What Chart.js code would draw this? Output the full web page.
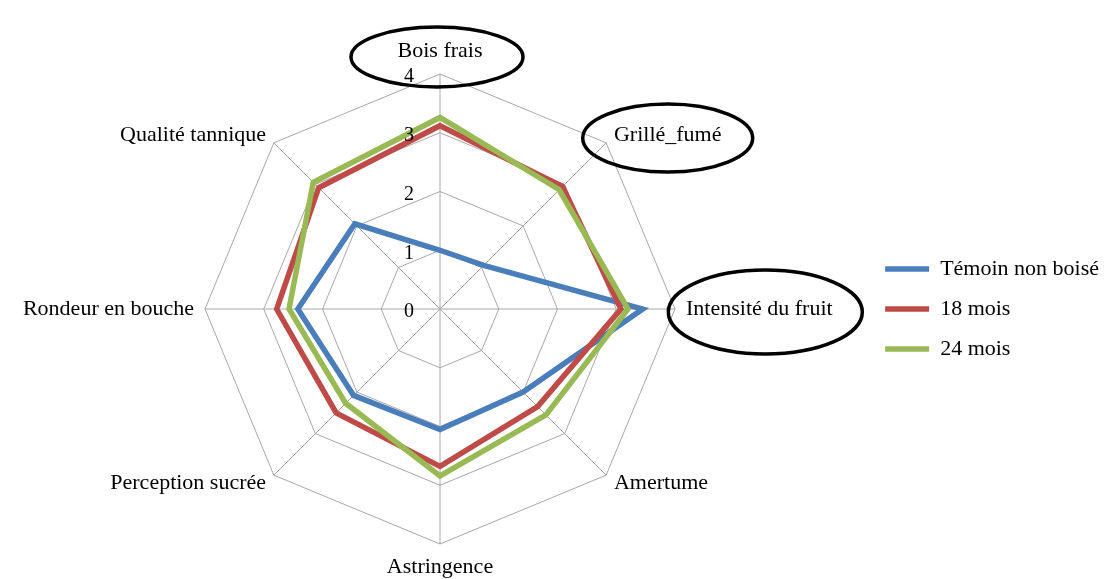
<!DOCTYPE html>
<html>
<head>
<meta charset="utf-8">
<script src="https://cdn.jsdelivr.net/npm/chart.js@4.4.1/dist/chart.umd.min.js"></script>
<style>
  html, body { margin: 0; padding: 0; background: #fff; }
  #wrap { width: 1111px; height: 579px; position: relative; }
</style>
</head>
<body>
<div id="wrap"><canvas id="chart"></canvas></div>
<script>
// Profil sensoriel : témoin non boisé vs élevage 18 / 24 mois

const labels = ['Bois frais', 'Grillé_fumé', 'Intensité du fruit', 'Amertume', 'Astringence', 'Perception sucrée', 'Rondeur en bouche', 'Qualité tannique'];
const seriesNames = ['Témoin non boisé', '18 mois', '24 mois'];
const temoin = [1.0, 1.05, 3.45, 2.0, 2.05, 2.08, 2.42, 2.05];
const mois18 = [3.12, 2.95, 3.08, 2.35, 2.68, 2.5, 2.78, 2.92];
const mois24 = [3.26, 2.87, 3.2, 2.55, 2.84, 2.27, 2.57, 3.05];
const tickValues = [0, 1, 2, 3, 4];

const colors = ['#4A7EBB', '#BE4B48', '#98B954'];
const FONT = '"Liberation Serif", "Times New Roman", serif';
const GRID = '#a8a8a8';

// hand-drawn circles around some axis labels (offsets from the label centre)
const circled = [
    { label: 'Bois frais', dx: -3, dy: 6, rx: 86, ry: 30 },
    { label: 'Grillé_fumé', dx: 0, dy: 3, rx: 85, ry: 34 },
    { label: 'Intensité du fruit', dx: 6, dy: 3, rx: 97, ry: 42 }
];

// axis labels, tick numbers and circles drawn Excel-style
const excelLabels = {
    id: 'excelLabels',
    afterDraw(chart) {
        const scale = chart.scales.r;
        const ctx = chart.ctx;
        const R = scale.drawingArea;
        const centres = {};

        ctx.save();
        ctx.fillStyle = '#000';
        ctx.textBaseline = 'middle';
        ctx.font = '22px ' + FONT;
        labels.forEach((text, i) => {
            const sin = Math.sin(scale.getIndexAngle(i));
            const w = ctx.measureText(text).width;
            let dist = R + 11;
            let align = 'center';
            if (Math.abs(sin) < 0.01) dist = R + 23;
            else align = sin > 0 ? 'left' : 'right';
            const p = scale.getPointPosition(i, dist);
            ctx.textAlign = align;
            ctx.fillText(text, p.x, p.y);
            const cx = align === 'left' ? p.x + w / 2 : align === 'right' ? p.x - w / 2 : p.x;
            centres[text] = { x: cx, y: p.y };
        });

        ctx.font = '20px ' + FONT;
        ctx.textAlign = 'center';
        tickValues.forEach(v => {
            const y = scale.yCenter - scale.getDistanceFromCenterForValue(v) + 3;
            ctx.fillText(String(v), scale.xCenter - 31, y);
        });

        ctx.strokeStyle = '#000';
        ctx.lineWidth = 3.5;
        circled.forEach(c => {
            const p = centres[c.label];
            ctx.beginPath();
            ctx.ellipse(p.x + c.dx, p.y + c.dy, c.rx, c.ry, 0, 0, Math.PI * 2);
            ctx.stroke();
        });
        ctx.restore();
    }
};

const makeSet = (name, values, color, order) => ({
    label: name,
    data: values,
    borderColor: color,
    backgroundColor: color,
    borderWidth: 5.5,
    borderJoinStyle: 'miter',
    borderCapStyle: 'round',
    fill: false,
    pointRadius: 0,
    pointHoverRadius: 0,
    order: order
});

new Chart(document.getElementById('chart'), {
    type: 'radar',
    data: {
        labels: labels,
        datasets: [
            makeSet(seriesNames[0], temoin, colors[0], 3),
            makeSet(seriesNames[1], mois18, colors[1], 2),
            makeSet(seriesNames[2], mois24, colors[2], 1)
        ]
    },
    options: {
        responsive: true,
        maintainAspectRatio: false,
        animation: false,
        events: [],
        layout: { padding: { left: 13, right: 2, top: 74, bottom: 35 } },
        scales: {
            r: {
                min: 0,
                max: 4,
                ticks: { stepSize: 1, display: false },
                grid: { color: GRID, lineWidth: 1, circular: false },
                angleLines: { color: GRID, lineWidth: 1 },
                pointLabels: { display: false }
            }
        },
        plugins: {
            tooltip: { enabled: false },
            legend: {
                position: 'right',
                labels: {
                    usePointStyle: true,
                    pointStyle: 'line',
                    pointStyleWidth: 44,
                    padding: 18,
                    color: '#000',
                    font: { family: FONT, size: 22 },
                    sort: (a, b) => a.datasetIndex - b.datasetIndex
                }
            }
        }
    },
    plugins: [excelLabels]
});
</script>
</body>
</html>
